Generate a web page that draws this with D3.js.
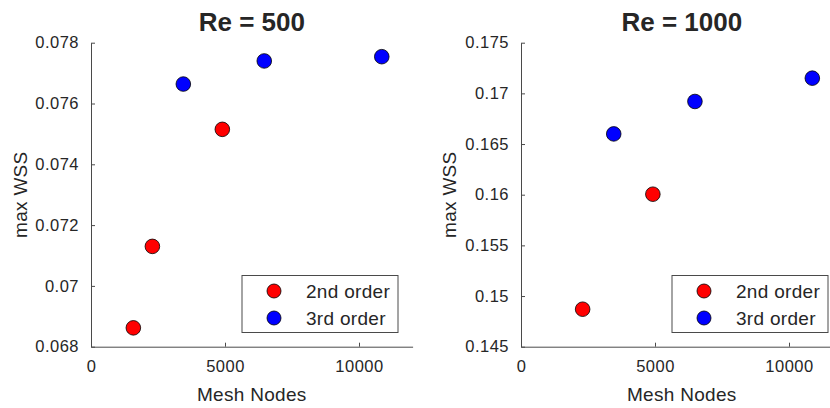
<!DOCTYPE html>
<html>
<head>
<meta charset="utf-8">
<script src="https://cdn.jsdelivr.net/npm/d3@7"></script>
<style>
  body { margin: 0; background: #fff; }
  text { font-family: "Liberation Sans", Arial, Helvetica, sans-serif; fill: #262626; }
</style>
</head>
<body>
<div id="chart"></div>
<script>
// Re = 500
const re500Second = [[1580, 0.06862], [2290, 0.0713], [4900, 0.07515]];
const re500Third = [[3445, 0.07664], [6465, 0.0774], [10850, 0.07754]];
const re500YTicks = [0.068, 0.07, 0.072, 0.074, 0.076, 0.078];

// Re = 1000
const re1000Second = [[2300, 0.1487], [4920, 0.16005]];
const re1000Third = [[3460, 0.166], [6490, 0.1692], [10870, 0.1715]];
const re1000YTicks = [0.145, 0.15, 0.155, 0.16, 0.165, 0.17, 0.175];

const xTicks = [0, 5000, 10000];
const seriesNames = ['2nd order', '3rd order'];
const seriesColors = ['#ff0000', '#0000ff'];

const width = 830;
const height = 408;
const plotTop = 42.7;
const plotBottom = 346.7;
const plotWidth = 321.6;
const axisColor = '#4a4a4a';
const fmt = d => String(+d.toFixed(4));

const panels = [
  { title: 'Re = 500', left: 91, yDomain: [0.068, 0.078], yTicks: re500YTicks,
    series: [re500Second, re500Third], yLabelX: 27 },
  { title: 'Re = 1000', left: 521, yDomain: [0.145, 0.175], yTicks: re1000YTicks,
    series: [re1000Second, re1000Third], yLabelX: 456 }
];

const svg = d3.select('#chart')
  .append('svg')
  .attr('width', width)
  .attr('height', height);

panels.forEach(function (p) {
  const x = d3.scaleLinear().domain([0, 12000]).range([p.left, p.left + plotWidth]);
  const y = d3.scaleLinear().domain(p.yDomain).range([plotBottom, plotTop]);
  const g = svg.append('g');

  // axes (ticks point inward like MATLAB)
  const xAxis = g.append('g')
    .attr('transform', 'translate(0,' + plotBottom + ')')
    .call(d3.axisBottom(x).tickValues(xTicks).tickFormat(d => String(d))
      .tickSizeInner(-4).tickSizeOuter(0).tickPadding(14));
  const yAxis = g.append('g')
    .attr('transform', 'translate(' + p.left + ',0)')
    .call(d3.axisLeft(y).tickValues(p.yTicks).tickFormat(fmt)
      .tickSizeInner(-4).tickSizeOuter(0).tickPadding(12));

  [xAxis, yAxis].forEach(function (a) {
    a.select('.domain').attr('stroke', axisColor);
    a.selectAll('.tick line').attr('stroke', axisColor);
    a.selectAll('.tick text')
      .attr('font-size', '16.5px')
      .attr('letter-spacing', '0.5px')
      .attr('fill', '#333')
      .style('font-family', '"Liberation Sans", Arial, sans-serif');
  });

  // title
  g.append('text')
    .attr('x', p.left + plotWidth / 2)
    .attr('y', 31)
    .attr('text-anchor', 'middle')
    .attr('font-size', '26px')
    .attr('font-weight', 'bold')
    .attr('fill', '#000')
    .text(p.title);

  // axis labels
  g.append('text')
    .attr('x', p.left + plotWidth / 2)
    .attr('y', 401)
    .attr('text-anchor', 'middle')
    .attr('font-size', '19px')
    .attr('letter-spacing', '0.3px')
    .attr('fill', '#333')
    .text('Mesh Nodes');

  g.append('text')
    .attr('transform', 'translate(' + p.yLabelX + ',' + (plotTop + plotBottom) / 2 + ') rotate(-90)')
    .attr('text-anchor', 'middle')
    .attr('font-size', '19px')
    .attr('letter-spacing', '0.3px')
    .attr('fill', '#333')
    .text('max WSS');

  // points
  p.series.forEach(function (pts, si) {
    g.selectAll(null)
      .data(pts)
      .enter()
      .append('circle')
      .attr('cx', d => x(d[0]))
      .attr('cy', d => y(d[1]))
      .attr('r', 7.3)
      .attr('fill', seriesColors[si])
      .attr('stroke', '#000')
      .attr('stroke-width', 0.8);
  });

  // legend
  const lx = p.left + 151;
  const ly = 275.5;
  const leg = g.append('g').attr('transform', 'translate(' + lx + ',' + ly + ')');
  leg.append('rect')
    .attr('width', 156)
    .attr('height', 57)
    .attr('fill', '#fff')
    .attr('stroke', axisColor)
    .attr('stroke-width', 1);
  seriesNames.forEach(function (name, i) {
    leg.append('circle')
      .attr('cx', 32)
      .attr('cy', 15.5 + i * 27)
      .attr('r', 7)
      .attr('fill', seriesColors[i])
      .attr('stroke', '#000')
      .attr('stroke-width', 0.8);
    leg.append('text')
      .attr('x', 64)
      .attr('y', 22 + i * 27)
      .attr('font-size', '19px')
      .attr('letter-spacing', '0.3px')
      .attr('fill', '#222')
      .text(name);
  });
});
</script>
</body>
</html>
